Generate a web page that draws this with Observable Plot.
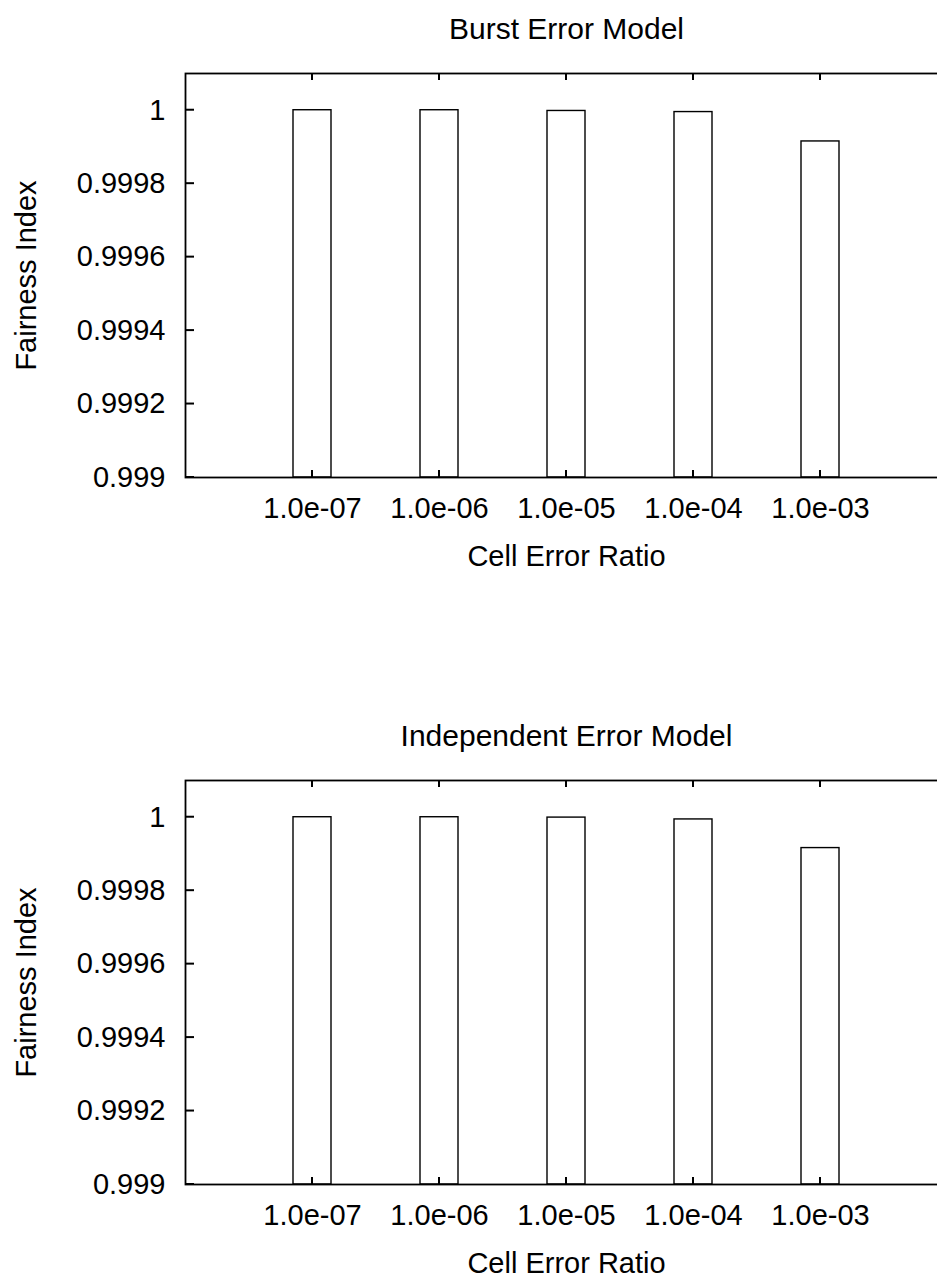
<!DOCTYPE html>
<html>
<head>
<meta charset="utf-8">
<script src="https://cdn.jsdelivr.net/npm/d3@7"></script>
<script src="https://cdn.jsdelivr.net/npm/@observablehq/plot@0.6"></script>
<style>
  html, body { margin: 0; padding: 0; background: #fff; overflow: hidden; width: 937px; height: 1278px; }
  .panel { position: absolute; left: 0; width: 947px; }
  .panel svg { max-width: none !important; display: block; }
</style>
</head>
<body>
<div id="burst" class="panel" style="top:0"></div>
<div id="indep" class="panel" style="top:707px"></div>
<script>
// Cell error ratios on the x axis
const ratios = ["1.0e-07", "1.0e-06", "1.0e-05", "1.0e-04", "1.0e-03"];
// Fairness index for each error model
const burstFairness = [1.0, 1.0, 0.999998, 0.999995, 0.999915];
const independentFairness = [1.0, 1.0, 0.999999, 0.999994, 0.999916];
// y axis ticks and extent
const yTicks = [0.999, 0.9992, 0.9994, 0.9996, 0.9998, 1];
const yDomain = [0.999, 1.0001];
const titles = ["Burst Error Model", "Independent Error Model"];
const xLabel = "Cell Error Ratio";
const yLabel = "Fairness Index";

const font = "'Liberation Sans', Arial, Helvetica, sans-serif";

// Short tick marks pointing into the frame, placed with the plot's own scales
function inwardTicks(index, scales, values, dims) {
  const x = scales.x, y = scales.y;
  const bw = typeof x.bandwidth === "function" ? x.bandwidth()
    : (scales.scales && scales.scales.x && scales.scales.x.bandwidth) || 0;
  const left = dims.marginLeft;
  const top = dims.marginTop;
  const bottom = dims.height - dims.marginBottom;
  const g = d3.create("svg:g").attr("stroke", "black").attr("stroke-width", 2).attr("fill", "none");
  for (const t of yTicks) {
    g.append("line").attr("x1", left).attr("x2", left + 9).attr("y1", y(t)).attr("y2", y(t));
  }
  for (const r of ratios) {
    const cx = x(r) + bw / 2;
    g.append("line").attr("x1", cx).attr("x2", cx).attr("y1", bottom).attr("y2", bottom - 7);
    g.append("line").attr("x1", cx).attr("x2", cx).attr("y1", top).attr("y2", top + 7);
  }
  return g.node();
}

function panel(title, values) {
  const rows = ratios.map((r, i) => ({ratio: r, fairness: values[i]}));
  return Plot.plot({
    width: 947,
    height: 600,
    marginLeft: 185,
    marginRight: 0,
    marginTop: 73,
    marginBottom: 123,
    style: {fontFamily: font, fontSize: "29px", color: "#000", background: "#fff"},
    x: {type: "band", domain: ratios, paddingInner: 0.7, paddingOuter: 0.85},
    y: {domain: yDomain},
    marks: [
      Plot.barY(rows, {x: "ratio", y1: yDomain[0], y2: "fairness", fill: "white", stroke: "black", strokeWidth: 1.4}),
      inwardTicks,
      Plot.axisY({ticks: yTicks, tickSize: 0, tickPadding: 20, tickFormat: d3.format("~g"), label: null, fontSize: 29}),
      Plot.axisX({tickSize: 0, tickPadding: 20, label: null, fontSize: 29}),
      Plot.frame({stroke: "black", strokeWidth: 1.8}),
      Plot.text([title], {text: d => d, frameAnchor: "top", lineAnchor: "bottom", dy: -35, fontSize: 30}),
      Plot.text([xLabel], {text: d => d, frameAnchor: "bottom", lineAnchor: "bottom", dy: 88, fontSize: 29}),
      Plot.text([yLabel], {text: d => d, frameAnchor: "left", textAnchor: "middle", rotate: -90, lineAnchor: "bottom", dx: -150, fontSize: 29})
    ]
  });
}

document.getElementById("burst").append(panel(titles[0], burstFairness));
document.getElementById("indep").append(panel(titles[1], independentFairness));
</script>
</body>
</html>
